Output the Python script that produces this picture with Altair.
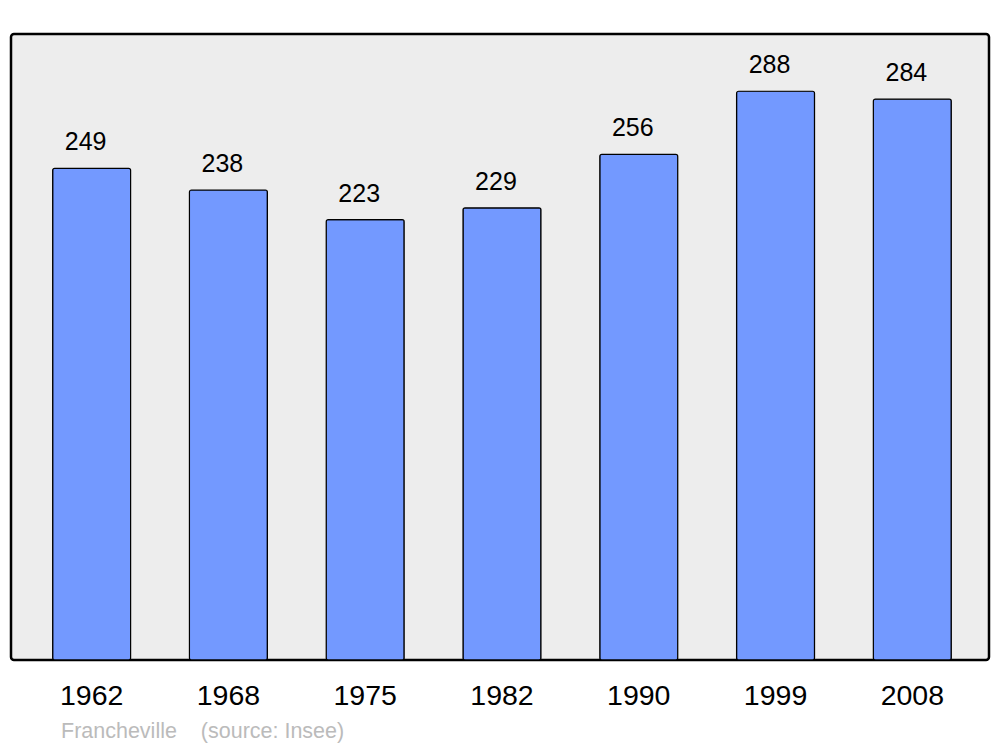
import altair as alt
import pandas as pd

years = ["1962", "1968", "1975", "1982", "1990", "1999", "2008"]
population = [249, 238, 223, 229, 256, 288, 284]

df = pd.DataFrame({"year": years, "pop": population})

FONT = "Liberation Sans"

x = alt.X("year:N", sort=years, title=None,
          scale=alt.Scale(paddingInner=0.43, paddingOuter=0.29, align=0.525),
          axis=alt.Axis(labelAngle=0, labelFontSize=28.5, labelColor="black",
                        labelFont=FONT, domain=False, ticks=False, labelPadding=21))
y = alt.Y("pop:Q", title=None, scale=alt.Scale(domain=[0, 317], nice=False),
          axis=None)

bars = alt.Chart(df).mark_bar(color="#7399ff", stroke="black", strokeWidth=1.2,
                              cornerRadius=2).encode(x=x, y=y)
labels = alt.Chart(df).mark_text(baseline="alphabetic", dy=-18, dx=-6, fontSize=25,
                                 font=FONT, color="black").encode(
    x=alt.X("year:N", sort=years), y="pop:Q", text="pop:Q")

chart = (bars + labels).properties(
    width=978, height=626,
    autosize=alt.AutoSizeParams(type="none"),
    padding={"left": 3, "top": 26, "right": 3, "bottom": 90},
    title=alt.TitleParams("Francheville\u00a0\u00a0\u00a0\u00a0(source: Insee)",
                          orient="bottom", anchor="start", dx=50, offset=11,
                          fontSize=21.5, font=FONT, fontWeight="normal",
                          color="#bbbbbb"),
).configure_view(stroke="black", strokeWidth=2.5, fill="#ededed", cornerRadius=3)

chart.save("out.html", embed_options={"renderer": "svg", "actions": False})
